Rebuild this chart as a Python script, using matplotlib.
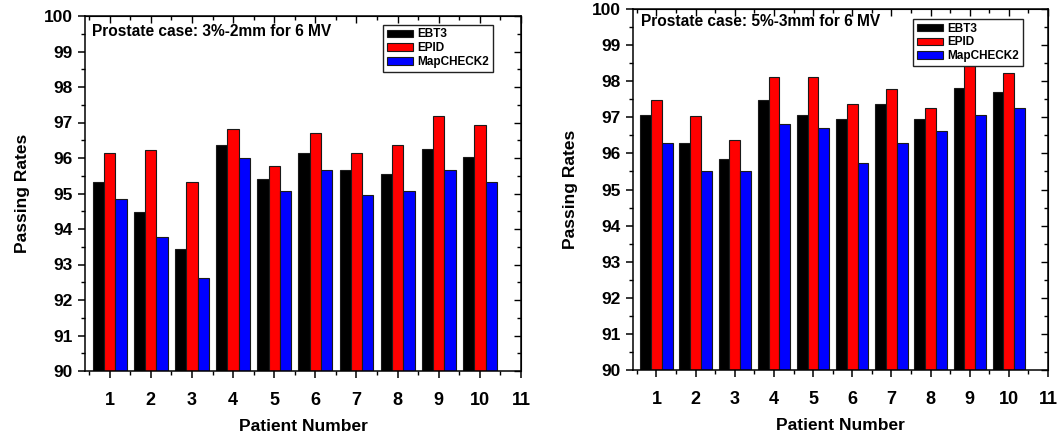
import numpy as np
import matplotlib
matplotlib.use("Agg")
import matplotlib.pyplot as plt
from matplotlib.ticker import MultipleLocator

plt.rcParams['font.family'] = ['Liberation Sans', 'DejaVu Sans']
plt.rcParams['font.weight'] = 'bold'

patients = [1, 2, 3, 4, 5, 6, 7, 8, 9, 10]
series_names = ["EBT3", "EPID", "MapCHECK2"]
colors = ["#000000", "#ff0000", "#0000ff"]

# Prostate case: 3%-2mm for 6 MV
ebt3_3_2 = [95.32, 94.49, 93.43, 96.37, 95.42, 96.14, 95.67, 95.56, 96.25, 96.02]
epid_3_2 = [96.13, 96.23, 95.31, 96.82, 95.77, 96.71, 96.13, 96.36, 97.18, 96.94]
mapcheck_3_2 = [94.84, 93.78, 92.62, 96.00, 95.07, 95.67, 94.96, 95.07, 95.67, 95.31]

# Prostate case: 5%-3mm for 6 MV
ebt3_5_3 = [97.05, 96.28, 95.85, 97.48, 97.05, 96.94, 97.37, 96.94, 97.80, 97.70]
epid_5_3 = [97.47, 97.03, 96.38, 98.12, 98.12, 97.36, 97.79, 97.26, 98.55, 98.24]
mapcheck_5_3 = [96.28, 95.52, 95.52, 96.82, 96.71, 95.73, 96.28, 96.61, 97.05, 97.26]

titles = ["Prostate case: 3%-2mm for 6 MV", "Prostate case: 5%-3mm for 6 MV"]
xticks = list(range(1, 12))
yticks = list(range(90, 101))

fig = plt.figure(figsize=(10.59, 4.37), dpi=100)
ax1 = fig.add_axes([85/1059, 1-371/437, 436/1059, 355/437])
ax2 = fig.add_axes([633/1059, 1-370/437, 415/1059, 361/437])

panels = [
    (ax1, [ebt3_3_2, epid_3_2, mapcheck_3_2], titles[0], (0.016, 0.955), (0.935, 0.975)),
    (ax2, [ebt3_5_3, epid_5_3, mapcheck_5_3], titles[1], (0.019, 0.964), (0.939, 0.972)),
]

bw = 0.275
x = np.array(patients, dtype=float)
for ax, data, title, tpos, lpos in panels:
    for i, (vals, name, c) in enumerate(zip(data, series_names, colors)):
        ax.bar(x + (i - 1) * bw, np.array(vals) - 90, bottom=90, width=bw,
               color=c, edgecolor='#1a1a1a', linewidth=0.8, label=name, zorder=2)
    ax.set_xlim(0.4, 11.0)
    ax.set_ylim(90, 100)
    ax.set_xticks(xticks)
    ax.set_yticks(yticks)
    ax.xaxis.set_minor_locator(MultipleLocator(0.5))
    ax.yaxis.set_minor_locator(MultipleLocator(0.5))
    ax.tick_params(which='major', direction='out', length=5, width=1.1,
                   labelsize=12.5, pad=4)
    ax.tick_params(axis='x', which='major', pad=10, labelsize=13)
    ax.tick_params(which='minor', direction='out', length=3, width=1.0)
    for lab in ax.get_xticklabels() + ax.get_yticklabels():
        lab.set_fontweight('bold')
    for s in ax.spines.values():
        s.set_linewidth(1.1)
    # mirrored inward ticks on top and right
    secx = ax.secondary_xaxis('top')
    secx.set_xticks(xticks)
    secx.xaxis.set_minor_locator(MultipleLocator(0.5))
    secx.tick_params(which='major', direction='in', length=5, width=1.0, labeltop=False)
    secx.tick_params(which='minor', direction='in', length=3, width=1.0)
    secy = ax.secondary_yaxis('right')
    secy.set_yticks(yticks)
    secy.yaxis.set_minor_locator(MultipleLocator(0.5))
    secy.tick_params(which='major', direction='in', length=5, width=1.0, labelright=False)
    secy.tick_params(which='minor', direction='in', length=3, width=1.0)

    ax.set_xlabel("Patient Number", fontsize=12.5, fontweight='bold', labelpad=7)
    ax.set_ylabel("Passing Rates", fontsize=12.5, fontweight='bold', labelpad=10)
    ax.text(tpos[0], tpos[1], title, transform=ax.transAxes, fontsize=11.2,
            fontweight='bold', ha='left', va='center', zorder=5)
    leg = ax.legend(loc='upper right', bbox_to_anchor=lpos, fontsize=8.5,
                    frameon=True, fancybox=False, framealpha=1,
                    edgecolor='#222222', handlelength=2.2, handleheight=0.6,
                    labelspacing=0.15, borderpad=0.3, handletextpad=0.4,
                    borderaxespad=0)
    leg.get_frame().set_linewidth(1.0)
    leg.set_zorder(10)
    for t in leg.get_texts():
        t.set_fontweight('bold')

fig.savefig("out.png", dpi=100)
